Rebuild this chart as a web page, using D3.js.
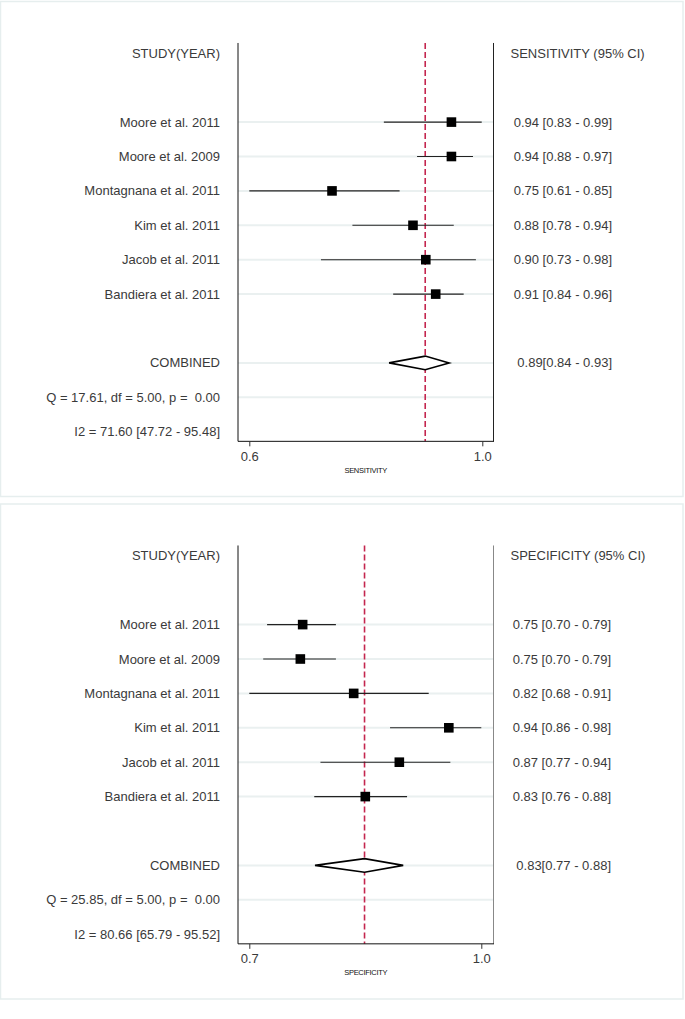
<!DOCTYPE html>
<html>
<head>
<meta charset="utf-8">
<script src="https://cdn.jsdelivr.net/npm/d3@7/dist/d3.min.js"></script>
<style>
  html, body { margin: 0; padding: 0; background: #ffffff; }
  svg { display: block; }
  text { font-family: "Liberation Sans", Arial, sans-serif; fill: #3a3a3a; white-space: pre; }
</style>
</head>
<body>
<svg id="chart" width="685" height="1019"></svg>
<script>
// ---------------- DATA ----------------
const studies = ["Moore et al. 2011", "Moore et al. 2009", "Montagnana et al. 2011",
                 "Kim et al. 2011", "Jacob et al. 2011", "Bandiera et al. 2011"];

// Sensitivity (plotted positions)
const sensEst = [0.947, 0.947, 0.742, 0.881, 0.903, 0.920];
const sensLo  = [0.831, 0.888, 0.600, 0.777, 0.723, 0.847];
const sensHi  = [0.999, 0.984, 0.858, 0.951, 0.989, 0.968];
const sensCombined = [0.902, 0.840, 0.943]; // est, lo, hi
const sensLabels = ["0.94 [0.83 - 0.99]", "0.94 [0.88 - 0.97]", "0.75 [0.61 - 0.85]",
                    "0.88 [0.78 - 0.94]", "0.90 [0.73 - 0.98]", "0.91 [0.84 - 0.96]"];
const sensCombinedLabel = "0.89[0.84 - 0.93]";
const sensQ = "Q = 17.61, df = 5.00, p =  0.00";
const sensI2 = "I2 = 71.60 [47.72 - 95.48]";
const sensTicks = [0.6, 1.0];

// Specificity
const specEst = [0.769, 0.766, 0.835, 0.958, 0.894, 0.850];
const specLo  = [0.723, 0.718, 0.700, 0.882, 0.792, 0.784];
const specHi  = [0.812, 0.812, 0.932, 1.000, 0.960, 0.904];
const specCombined = [0.849, 0.785, 0.899];
const specLabels = ["0.75 [0.70 - 0.79]", "0.75 [0.70 - 0.79]", "0.82 [0.68 - 0.91]",
                    "0.94 [0.86 - 0.98]", "0.87 [0.77 - 0.94]", "0.83 [0.76 - 0.88]"];
const specCombinedLabel = "0.83[0.77 - 0.88]";
const specQ = "Q = 25.85, df = 5.00, p =  0.00";
const specI2 = "I2 = 80.66 [65.79 - 95.52]";
const specTicks = [0.7, 1.0];

// ---------------- DRAW ----------------
const svg = d3.select("#chart");

function drawPanel(cfg) {
  const g = svg.append("g").attr("transform", `translate(0,${cfg.top})`);

  // panel frame
  g.append("rect")
    .attr("x", 0.5).attr("y", 1.5).attr("width", 682.5).attr("height", 495)
    .attr("fill", "#ffffff").attr("stroke", "#e6eeee").attr("stroke-width", 1.5);

  const rowStep = 34.4;
  const row0 = 53.3;
  const yRow = d3.scaleLinear().domain([0, 1]).range([row0, row0 + rowStep]);

  const plotL = 238, plotR = 493.5;
  const plotTop = yRow(-0.3), axisY = yRow(11.28);

  const x = d3.scaleLinear().domain(cfg.domain).range([249.3, cfg.range1]);

  const fs = 13;

  // gridlines
  const gridRows = [2, 3, 4, 5, 6, 7, 9, 10];
  g.selectAll(".grid").data(gridRows).enter().append("line")
    .attr("x1", plotL).attr("x2", plotR)
    .attr("y1", d => yRow(d)).attr("y2", d => yRow(d))
    .attr("stroke", "#eaf0f0").attr("stroke-width", 2);

  // dashed combined line
  g.append("line")
    .attr("x1", x(cfg.combined[0])).attr("x2", x(cfg.combined[0]))
    .attr("y1", plotTop).attr("y2", axisY)
    .attr("stroke", "#c4264f").attr("stroke-width", 1.6)
    .attr("stroke-dasharray", "6,3");

  // plot box (left, right, bottom)
  g.append("line").attr("x1", plotL).attr("x2", plotL).attr("y1", plotTop).attr("y2", axisY)
    .attr("stroke", "#111").attr("stroke-width", 1);
  g.append("line").attr("x1", plotR).attr("x2", plotR).attr("y1", plotTop).attr("y2", axisY)
    .attr("stroke", cfg.rightColor).attr("stroke-width", 1);
  g.append("line").attr("x1", plotL).attr("x2", plotR + 0.5).attr("y1", axisY).attr("y2", axisY)
    .attr("stroke", "#111").attr("stroke-width", 1);

  // axis
  const axis = d3.axisBottom(x).tickValues(cfg.ticks).tickFormat(d3.format(".1f")).tickSize(5).tickPadding(5);
  const ag = g.append("g").attr("transform", `translate(0,${axisY})`).call(axis);
  ag.select(".domain").remove();
  ag.selectAll(".tick line").attr("stroke", "#333");
  ag.selectAll(".tick text").style("font-family", "\"Liberation Sans\", Arial, sans-serif")
    .style("font-size", fs + "px").attr("fill", "#3a3a3a");
  g.append("text").attr("x", (plotL + plotR) / 2).attr("y", axisY + 31.5)
    .attr("text-anchor", "middle").style("font-size", "7.5px").style("fill", "#111")
    .style("letter-spacing", "-0.3px")
    .text(cfg.axisTitle);

  // CI lines
  g.selectAll(".ci").data(cfg.est).enter().append("line")
    .attr("x1", (d, i) => x(cfg.lo[i])).attr("x2", (d, i) => x(cfg.hi[i]))
    .attr("y1", (d, i) => yRow(i + 2)).attr("y2", (d, i) => yRow(i + 2))
    .attr("stroke", "#222").attr("stroke-width", 1.1);

  // squares
  const sq = 9.6;
  g.selectAll(".pt").data(cfg.est).enter().append("rect")
    .attr("x", d => x(d) - sq / 2).attr("y", (d, i) => yRow(i + 2) - sq / 2)
    .attr("width", sq).attr("height", sq).attr("fill", "#000");

  // diamond
  const cy = yRow(9), hh = 6.8;
  const dpts = [[x(cfg.combined[1]), cy], [x(cfg.combined[0]), cy - hh],
                [x(cfg.combined[2]), cy], [x(cfg.combined[0]), cy + hh]];
  g.append("path").attr("d", d3.line()(dpts) + "Z")
    .attr("fill", "#fff").attr("stroke", "#000").attr("stroke-width", 1.6);

  // left texts
  const leftX = 220;
  const leftTexts = [{ r: 0, t: "STUDY(YEAR)" }]
    .concat(studies.map((s, i) => ({ r: i + 2, t: s })))
    .concat([{ r: 9, t: "COMBINED" }, { r: 10, t: cfg.q }, { r: 11, t: cfg.i2 }]);
  g.selectAll(".lt").data(leftTexts).enter().append("text")
    .attr("x", leftX).attr("y", d => yRow(d.r)).attr("dy", "0.35em")
    .attr("text-anchor", "end").style("font-size", fs + "px")
    .text(d => d.t);

  // right texts
  g.append("text").attr("x", 510.5).attr("y", yRow(0)).attr("dy", "0.35em")
    .style("font-size", fs + "px").text(cfg.header);
  const rightTexts = cfg.labels.map((s, i) => ({ r: i + 2, t: s }))
    .concat([{ r: 9, t: cfg.combinedLabel }]);
  g.selectAll(".rt").data(rightTexts).enter().append("text")
    .attr("x", cfg.rightAlign).attr("y", d => yRow(d.r)).attr("dy", "0.35em")
    .attr("text-anchor", "end").style("font-size", fs + "px")
    .text(d => d.t);
}

drawPanel({
  top: 0, domain: [sensTicks[0], sensTicks[1]], range1: 482.3, ticks: sensTicks,
  est: sensEst, lo: sensLo, hi: sensHi, combined: sensCombined,
  labels: sensLabels, combinedLabel: sensCombinedLabel, q: sensQ, i2: sensI2,
  header: "SENSITIVITY (95% CI)", axisTitle: "SENSITIVITY", rightAlign: 612, rightColor: "#222"
});

drawPanel({
  top: 502.5, domain: [specTicks[0], specTicks[1]], range1: 481.3, ticks: specTicks,
  est: specEst, lo: specLo, hi: specHi, combined: specCombined,
  labels: specLabels, combinedLabel: specCombinedLabel, q: specQ, i2: specI2,
  header: "SPECIFICITY (95% CI)", axisTitle: "SPECIFICITY", rightAlign: 611, rightColor: "#888"
});
</script>
</body>
</html>
